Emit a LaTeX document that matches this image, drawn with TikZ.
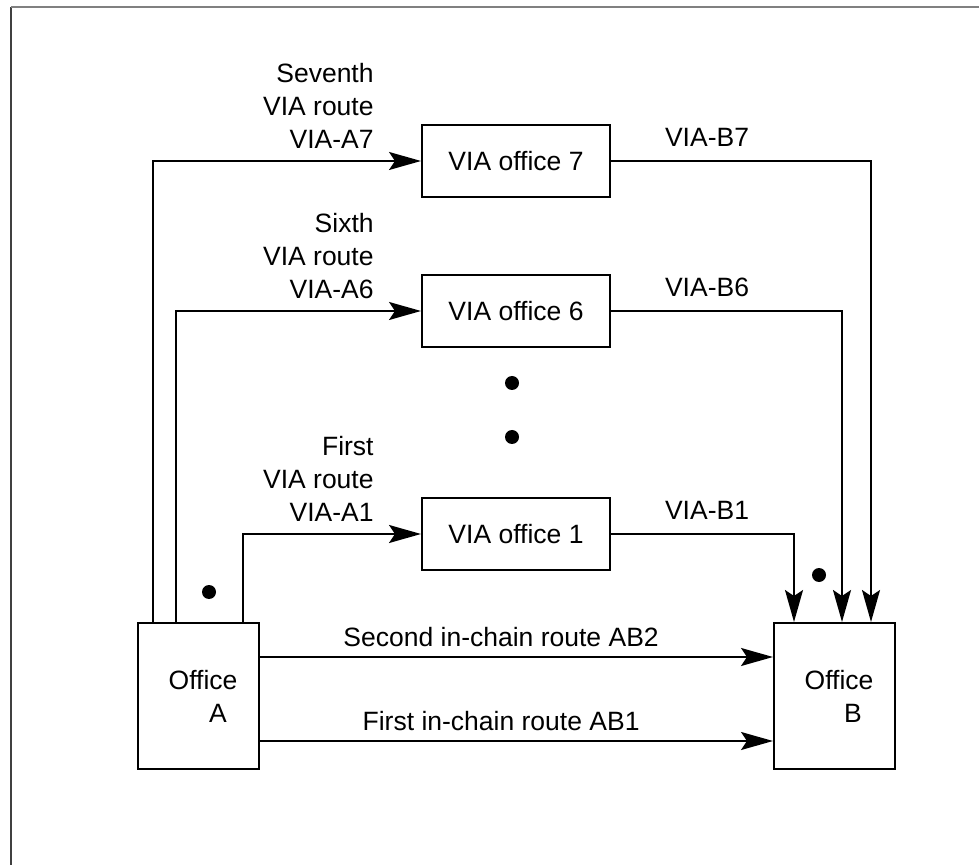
\documentclass[tikz,border=0pt]{standalone}
\usepackage{fontspec}
\setmainfont{Liberation Sans}
\usepackage{tikz}
\usetikzlibrary{arrows.meta,calc}

\tikzset{
	office/.style={draw, line width=1pt, minimum width=60.5pt, minimum height=73pt, inner sep=0pt, align=left},
	via/.style={draw, line width=1pt, minimum width=94pt, minimum height=36pt, inner sep=0pt},
	lbl/.style={inner sep=0pt},
	arr/.style={line width=1pt, -{Stealth[length=16pt, width=9pt, inset=3pt]}},
	dot/.style={fill=black}
}

\begin{document}
\begin{tikzpicture}[x=0.5pt, y=-0.5pt, font=\fontsize{13.25pt}{16.5pt}\selectfont]
	\useasboundingbox (0,0) rectangle (979,865);
	% frame
	\draw[black!75, line width=0.7pt] (11,865) -- (11,7);
	\draw[black!50, line width=0.7pt] (11,7) -- (979,7);

	\node[office] (offA) at (198.5,696) {\hspace*{4.5pt}Office\\\hspace*{24.8pt}A};
	\node[office] (offB) at (834.5,696) {\hspace*{4.5pt}Office\\\hspace*{24.3pt}B};

	\foreach \n/\y/\ord/\xa/\xb in {7/161/Seventh/16/98, 6/311/Sixth/39/69, 1/534/First/106/21} {
		\node[via] (via\n) at (516,\y) {VIA office \n};
		\node[lbl, align=right, anchor=east] (lblA\n) at (374,\y-55) {\ord\\VIA route\\VIA-A\n};
		\node[lbl] (lblB\n) at (707,\y-24) {VIA-B\n};
		\draw[arr] ($(offA.north west)+(\xa,0)$) |- (via\n.west);
		\draw[arr] (via\n.east) -| ($(offB.north west)+(\xb,0)$);
	}

	\draw[arr] ([yshift=-17.5pt]offA.north east) -- ([yshift=-17.5pt]offB.north west)
		node[pos=0.47, above, inner sep=4.4pt] (lblAB2) {Second in-chain route AB2};
	\draw[arr] ([yshift=-59.5pt]offA.north east) -- ([yshift=-59.5pt]offB.north west)
		node[pos=0.47, above, inner sep=4.4pt] (lblAB1) {First in-chain route AB1};

	% elided routes
	\foreach \x/\y in {512/383, 512/437, 209/592, 819/575}
		\fill[dot] (\x,\y) circle (3.5pt);
\end{tikzpicture}
\end{document}
